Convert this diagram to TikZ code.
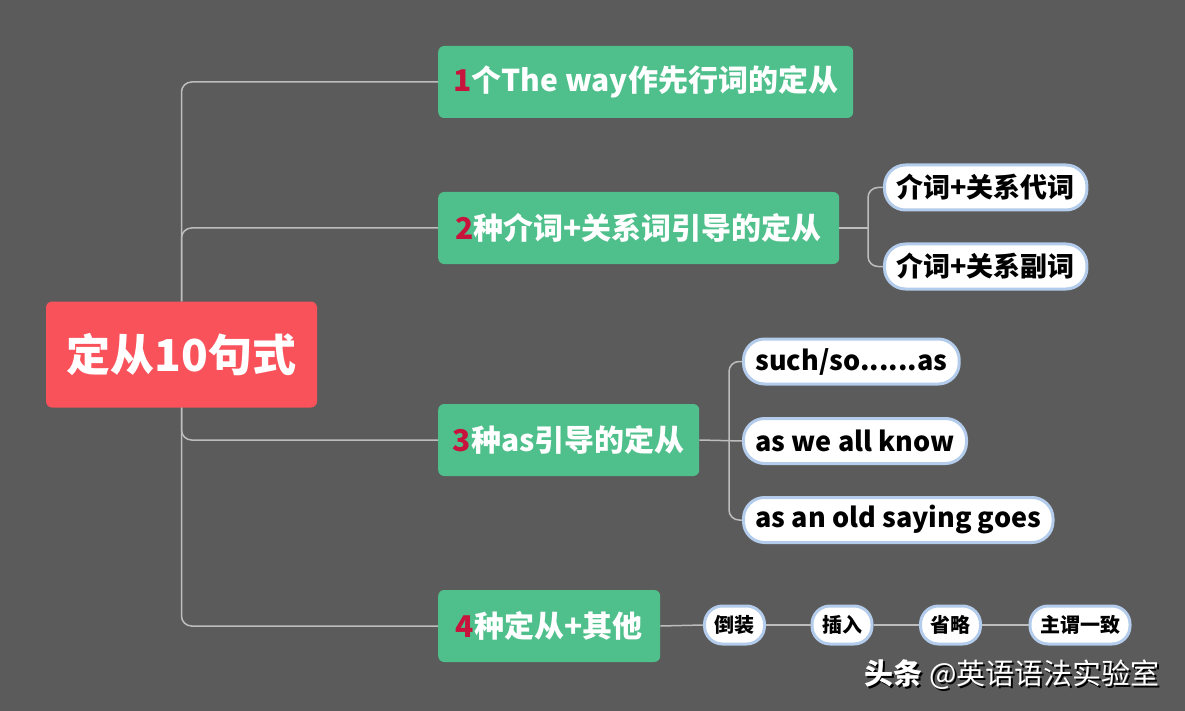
\documentclass[tikz,border=0pt]{standalone}
\usepackage{fontspec}
\setmainfont{Noto Sans CJK SC}
\usetikzlibrary{positioning}

\definecolor{bgdark}{HTML}{5B5B5B}
\definecolor{rootred}{HTML}{F9525A}
\definecolor{topicgreen}{HTML}{4FC08C}
\definecolor{numred}{HTML}{C8143C}
\definecolor{leafedge}{HTML}{B4CCEB}
\definecolor{linkgray}{HTML}{BDBDBD}

\tikzset{
  root/.style={fill=rootred, text=white, rounded corners=6pt, minimum width=271pt,
    minimum height=106pt, inner sep=0pt, font=\fontsize{44}{44}\selectfont\bfseries},
  topic/.style={fill=topicgreen, text=white, rounded corners=6pt, minimum height=72pt,
    minimum width=#1, anchor=west, inner xsep=9pt, font=\fontsize{30}{30}\selectfont\bfseries},
  leaf/.style={fill=white, draw=leafedge, line width=3pt, rounded corners=21pt,
    minimum height=45pt, anchor=west, inner xsep=12pt, text=black,
    font=\fontsize{27}{27}\selectfont\bfseries},
  tinyleaf/.style={leaf, rounded corners=18pt, minimum height=38pt, anchor=center,
    inner xsep=10pt, font=\fontsize{20}{20}\selectfont\bfseries},
  link/.style={draw=linkgray, line width=1.5pt, rounded corners=10pt},
}
\newcommand{\numtag}[1]{\textcolor{numred}{#1}}

\begin{document}
\begin{tikzpicture}[x=1pt,y=-1pt]
  \fill[bgdark] (0,0) rectangle (1185,711);
  \useasboundingbox (0,0) rectangle (1185,711);

  % centre and main topics
  \node[root]  (root) at (181.5,354.5) {定从10句式};
  \node[topic=415pt] (t1) at (438,82)  {\numtag{1}个The way作先行词的定从};
  \node[topic=401pt] (t2) at (438,228) {\numtag{2}种介词+关系词引导的定从};
  \node[topic=261pt] (t3) at (438,440) {\numtag{3}种as引导的定从};
  \node[topic=222pt] (t4) at (438,626) {\numtag{4}种定从+其他};

  % sub topics
  \node[leaf] (l21) at (883,187.5) {介词+关系代词};
  \node[leaf] (l22) at (883,266.5) {介词+关系副词};
  \node[leaf] (l31) at (742,361.5) {such/so......as};
  \node[leaf] (l32) at (742,441)   {as we all know};
  \node[leaf] (l33) at (742,520)   {as an old saying goes};
  \node[tinyleaf] (s1) at (734.5,625) {倒装};
  \node[tinyleaf] (s2) at (842,625)   {插入};
  \node[tinyleaf] (s3) at (950.5,625) {省略};
  \node[tinyleaf] (s4) at (1080,625)  {主谓一致};

  \coordinate (j2) at (868,228);
  \coordinate (j3) at (729,440);

  % links
  \draw[link] (root.north) |- (t1.west);
  \draw[link] (root.north) |- (t2.west);
  \draw[link] (root.south) |- (t3.west);
  \draw[link] (root.south) |- (t4.west);
  \draw[link] (t2.east) -- (j2);
  \draw[link] (j2) |- (l21.west);
  \draw[link] (j2) |- (l22.west);
  \draw[link] (t3.east) -- (l32.west);
  \draw[link] (j3) |- (l31.west);
  \draw[link] (j3) |- (l33.west);
  \draw[link] (t4.east) -- (s1.west);
  \draw[link] (s1.east) -- (s2.west);
  \draw[link] (s2.east) -- (s3.west);
  \draw[link] (s3.east) -- (s4.west);

  % watermark
  \node[anchor=east, text=black, font=\fontsize{29}{29}\selectfont] (markshadow)
    at (1165,677) {\textbf{头条} @英语语法实验室};
  \node[anchor=east, text=white, font=\fontsize{29}{29}\selectfont] (mark)
    at (1163,675) {\textbf{头条} @英语语法实验室};
\end{tikzpicture}
\end{document}
